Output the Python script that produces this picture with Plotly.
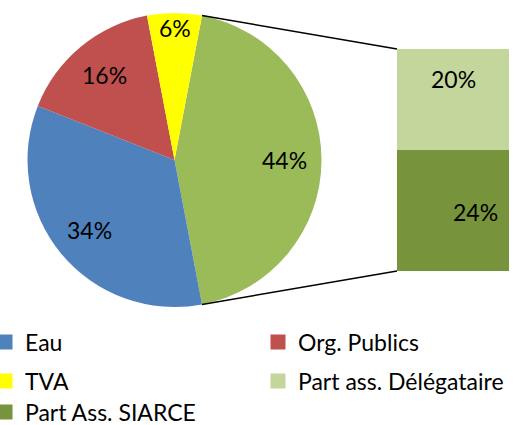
import math
import plotly.graph_objects as go

# pie part
pie_labels = ["Part ass.", "Eau", "Org. Publics", "TVA"]
pie_values = [44, 34, 16, 6]
pie_colors = ["#9BBB59", "#4F81BD", "#C0504D", "#FFFF00"]

# bar part (split of the green slice)
bar_labels = ["Part Ass. SIARCE", "Part ass. Délégataire"]
bar_values = [24, 20]
bar_colors = ["#77933C", "#C3D69B"]

# legend entries in the original order
legend_names = ["Eau", "Org. Publics", "TVA", "Part ass. Délégataire", "Part Ass. SIARCE"]

W, H = 527, 425
font = dict(family="Lato, 'Open Sans', sans-serif", size=23, color="black")

# pie placement (pixels)
cx, cy, r = 174.5, 160, 147
# bar placement (pixels)
bx0, bx1, by0, by1 = 397, 509, 49, 271
# label distance from centre, as fraction of radius (Excel best fit)
label_r = [0.75, 0.75, 0.75, 0.9]

fig = go.Figure()

# green slice centred on 3 o'clock
total = sum(pie_values)
rot = 90 - pie_values[0] / total * 360 / 2

fig.add_trace(go.Pie(
    labels=pie_labels, values=pie_values,
    marker=dict(colors=pie_colors, line=dict(width=0)),
    sort=False, direction="clockwise", rotation=rot,
    textinfo="none", showlegend=False, hoverinfo="label+percent",
    domain=dict(x=[(cx - r) / W, (cx + r) / W], y=[1 - (cy + r) / H, 1 - (cy - r) / H]),
))

# slice labels
start = rot
for v, lr in zip(pie_values, label_r):
    mid = math.radians(start + v / total * 360 / 2)
    start += v / total * 360
    fig.add_annotation(xref="paper", yref="paper",
                       x=(cx + lr * r * math.sin(mid)) / W,
                       y=1 - (cy - lr * r * math.cos(mid)) / H,
                       xanchor="center", yanchor="middle",
                       text=f"{round(v / total * 100)}%", showarrow=False, font=font)

# stacked bar
for lab, val, col in zip(bar_labels, bar_values, bar_colors):
    fig.add_trace(go.Bar(x=[0], y=[val], name=lab, marker=dict(color=col, line=dict(width=0)),
                         width=1, showlegend=False, hoverinfo="name+y"))

# bar labels placed like the original
fig.add_annotation(x=0, y=bar_values[0] / 2, text=f"{bar_values[0]}%", showarrow=False,
                   font=font, xshift=22, yshift=-2)
fig.add_annotation(x=0, y=bar_values[0] + bar_values[1] * 0.7, text=f"{bar_values[1]}%",
                   showarrow=False, font=font)

# connector lines from the green slice edges to the bar
a1 = math.radians(rot)
a2 = math.radians(rot + pie_values[0] / total * 360)
for ang, by in [(a1, by0), (a2, by1)]:
    px = cx + r * math.sin(ang)
    py = cy - r * math.cos(ang)
    fig.add_shape(type="line", xref="paper", yref="paper",
                  x0=px / W, y0=1 - py / H, x1=bx0 / W, y1=1 - by / H,
                  line=dict(color="black", width=1.5))

# legend: one legend per entry so the 2-column grid sits where the original has it
colours = dict(zip(pie_labels[1:] + bar_labels, pie_colors[1:] + bar_colors))
col_x = [-15, 258]
row_y = [342, 381, 412]
legends = {}
for i, name in enumerate(legend_names):
    lid = "legend" if i == 0 else f"legend{i + 1}"
    fig.add_trace(go.Scatter(x=[None], y=[None], mode="markers", name=name, legend=lid,
                             marker=dict(symbol="square", size=15, color=colours[name])))
    legends[lid] = dict(
        orientation="h", x=col_x[i % 2] / W, xanchor="left",
        y=1 - row_y[i // 2] / H, yanchor="middle",
        font=font, itemwidth=30, bgcolor="rgba(0,0,0,0)")

fig.update_layout(
    width=W, height=H,
    margin=dict(l=0, r=0, t=0, b=0, autoexpand=False),
    paper_bgcolor="white", plot_bgcolor="white",
    barmode="stack", bargap=0,
    font=font,
    xaxis=dict(domain=[bx0 / W, bx1 / W], range=[-0.5, 0.5], visible=False, type="linear"),
    yaxis=dict(domain=[1 - by1 / H, 1 - by0 / H], range=[0, sum(bar_values)], visible=False),
    **legends,
)

fig.write_html("out.html", config={"displayModeBar": False},
               post_script="document.body.style.margin='0';")
